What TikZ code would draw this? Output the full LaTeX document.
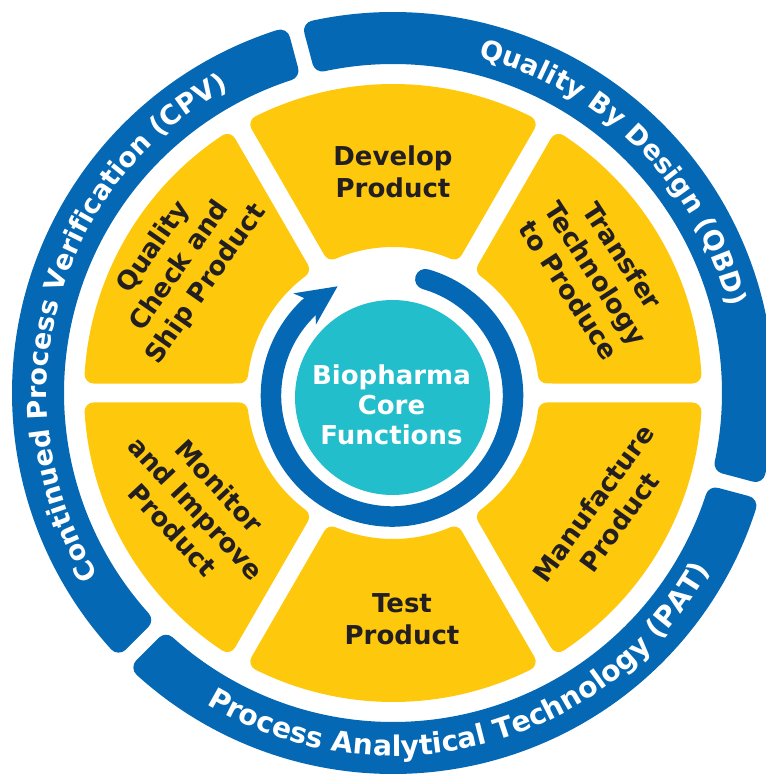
\documentclass[tikz,border=0pt]{standalone}
\usepackage{fontspec}
\setmainfont{DejaVu Sans}
\usetikzlibrary{decorations.text}
\definecolor{yel}{RGB}{254,200,12}
\definecolor{blu}{RGB}{4,104,180}
\definecolor{tea}{RGB}{34,190,204}
\definecolor{txt}{RGB}{35,31,32}
\newcommand\ringfont{\fontsize{27}{32}\selectfont\bfseries}
\newcommand\ringfontb{\fontsize{28.3}{32}\selectfont\bfseries}
\tikzset{
  seglabel/.style={font=\fontsize{26}{32}\selectfont\bfseries, text=txt, align=center, inner sep=0pt},
  corelabel/.style={font=\fontsize{26}{30}\selectfont\bfseries, text=white, align=center, inner sep=0pt},
  yseg/.style={fill=yel, draw=yel, line width=18pt, line join=round},
  bseg/.style={fill=blu, draw=blu, line width=20pt, line join=round},
  ringtext/.style={decorate, decoration={text along path, text align=center, text={|\ringfont\color{white}|#1}}},
  ringtextb/.style={decorate, decoration={text along path, text align=center, text={|\ringfontb\color{white}|#1}}}
}
\begin{document}
\begin{tikzpicture}
\useasboundingbox (-393pt,-382pt) rectangle (372pt,393pt);
% outer blue ring segments
\foreach \s in {-15,105,225} {
  \pgfmathsetmacro{\ao}{asin(17.5/371)}
  \pgfmathsetmacro{\ai}{asin(17.5/339)}
  \pgfmathsetmacro{\aa}{\s+\ao}
  \pgfmathsetmacro{\ab}{\s+120-\ao}
  \pgfmathsetmacro{\ac}{\s+120-\ai}
  \pgfmathsetmacro{\ad}{\s+\ai}
  \filldraw[bseg] (\aa:371pt) arc[start angle=\aa, end angle=\ab, radius=371pt]
     -- (\ac:339pt) arc[start angle=\ac, end angle=\ad, radius=339pt] -- cycle;
}
% yellow segments
\foreach \p in {90,30,-30,-90,-150,150} {
  \pgfmathsetmacro{\ao}{asin(18.5/300)}
  \pgfmathsetmacro{\ai}{asin(18.5/155)}
  \pgfmathsetmacro{\aa}{\p-30+\ao}
  \pgfmathsetmacro{\ab}{\p+30-\ao}
  \pgfmathsetmacro{\ac}{\p+30-\ai}
  \pgfmathsetmacro{\ad}{\p-30+\ai}
  \filldraw[yseg] (\aa:300pt) arc[start angle=\aa, end angle=\ab, radius=300pt]
     -- (\ac:155pt) arc[start angle=\ac, end angle=\ad, radius=155pt] -- cycle;
}
% ring texts
\path[ringtext={Quality By Design (QBD)}] (105:346pt) arc[start angle=105, end angle=-15, radius=346pt];
\path[ringtext={Continued Process Verification (CPV)}] (225:346pt) arc[start angle=225, end angle=105, radius=346pt];
\path[ringtextb={Process Analytical Technology (PAT)}] (225:363pt) arc[start angle=225, end angle=345, radius=363pt];
% cycle arrow
\begin{scope}[shift={(-1pt,-2.5pt)}]
  \draw[blu, line width=20.5pt, line cap=round] (74:121pt) arc[start angle=74, end angle=-227.5, radius=121pt];
  \fill[blu] (116.5:122pt) -- (134:142pt) -- (132:131pt) -- (133.5:111pt) -- (137:104pt) -- cycle;
\end{scope}
% core
\node[circle, fill=tea, minimum size=195pt, inner sep=0pt] (hub) at (-0.5pt,-4.5pt) {};
\node[corelabel] (core) at (-1.5pt,-12pt) {Biopharma\\Core\\Functions};
% segment labels
\node[seglabel] (develop) at (0pt,220.8pt) {Develop\\Product};
\node[seglabel, rotate=-57] (transfer) at (203pt,120pt) {Transfer\\Technology\\to Produce};
\node[seglabel, rotate=54] (manufacture) at (213pt,-119.5pt) {Manufacture\\Product};
\node[seglabel] (test) at (9pt,-226.3pt) {Test\\Product};
\node[seglabel, rotate=-47] (monitor) at (-197pt,-115pt) {Monitor\\and Improve\\Product};
\node[seglabel, rotate=55] (quality) at (-213pt,127pt) {Quality\\Check and\\Ship Product};
\end{tikzpicture}
\end{document}
